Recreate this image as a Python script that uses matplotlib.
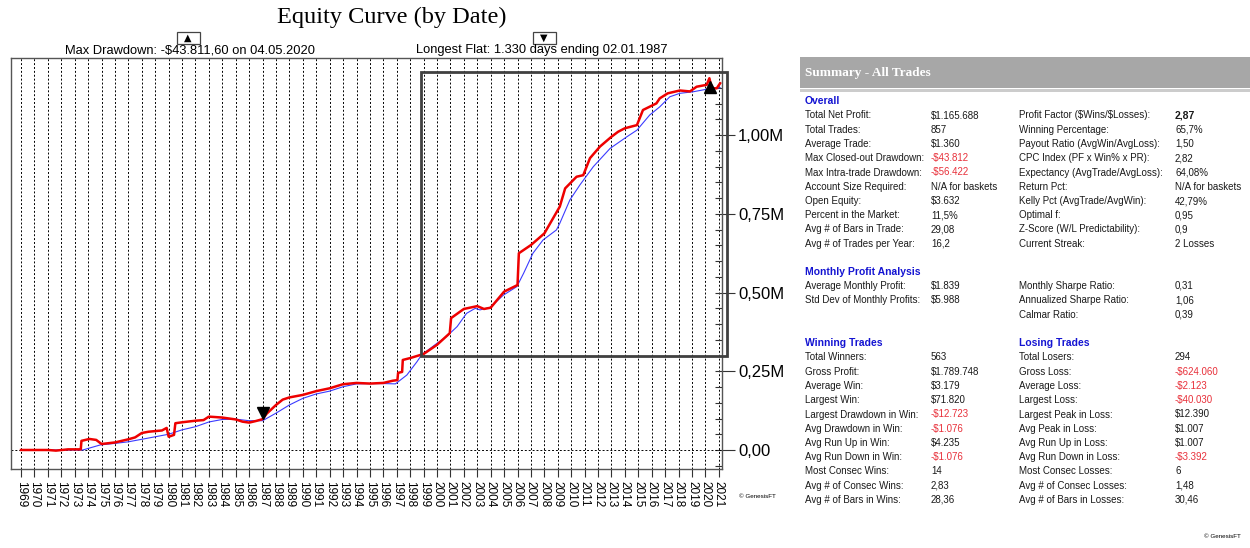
import matplotlib
matplotlib.use("Agg")
import matplotlib.pyplot as plt
import numpy as np
from matplotlib.patches import Rectangle
from matplotlib.ticker import FixedLocator, FuncFormatter
import matplotlib.transforms as mtransforms

plt.rcParams['font.family'] = ['Liberation Sans', 'DejaVu Sans']

# ---- equity curves (value in $M, time in decimal years) ----
red_years = [1969.0, 1971.0, 1971.6, 1972.5, 1973.45, 1973.5, 1974.1, 1974.6, 1975.0, 1976.0,
             1977.0, 1977.5, 1978.0, 1978.5, 1979.0, 1979.5, 1979.85, 1980.0, 1980.4, 1980.5,
             1981.0, 1982.0, 1982.6, 1983.0, 1984.0, 1985.0, 1985.5, 1986.0, 1986.5, 1987.0,
             1987.3, 1987.6, 1988.0, 1988.5, 1989.0, 1990.0, 1991.0, 1992.0, 1993.0, 1994.0,
             1995.0, 1996.0, 1996.7, 1997.05, 1997.1, 1997.4, 1997.45, 1998.0, 1999.0, 2000.0,
             2000.95, 2001.05, 2002.0, 2003.0, 2003.5, 2004.0, 2005.0, 2006.0, 2006.1, 2007.0,
             2008.0, 2009.15, 2009.55, 2010.4, 2010.9, 2011.4, 2012.15, 2013.0, 2013.5, 2014.0,
             2014.9, 2015.35, 2016.35, 2016.6, 2017.2, 2018.1, 2018.85, 2019.35, 2020.1, 2020.3,
             2020.47, 2020.85, 2021.1]
red_equity = [0.0, 0.0, -0.002, 0.002, 0.002, 0.029, 0.035, 0.032, 0.019, 0.024,
              0.034, 0.040, 0.054, 0.058, 0.060, 0.062, 0.070, 0.042, 0.048, 0.085,
              0.088, 0.093, 0.095, 0.106, 0.103, 0.097, 0.090, 0.087, 0.092, 0.098,
              0.115, 0.127, 0.143, 0.160, 0.167, 0.175, 0.187, 0.196, 0.209, 0.213,
              0.211, 0.213, 0.220, 0.222, 0.245, 0.248, 0.286, 0.292, 0.305, 0.334,
              0.371, 0.419, 0.448, 0.457, 0.448, 0.452, 0.503, 0.524, 0.625, 0.651,
              0.688, 0.773, 0.831, 0.868, 0.873, 0.927, 0.964, 0.995, 1.011, 1.022,
              1.032, 1.080, 1.101, 1.117, 1.133, 1.142, 1.139, 1.154, 1.160, 1.181,
              1.149, 1.149, 1.165]

blue_years = [1969.0, 1973.6, 1974.9, 1976, 1977, 1978, 1979, 1980, 1981, 1982,
              1983, 1984, 1985, 1986, 1987, 1988, 1989, 1990, 1991, 1992,
              1993, 1994, 1995, 1996, 1996.9, 1997.75, 1998.5, 1998.85, 2000.0, 2000.7,
              2001.5, 2002.2, 2002.85, 2003.2, 2003.95, 2004.95, 2005.95, 2006.45, 2007.15, 2007.9,
              2008.9, 2009.15, 2009.9, 2010.65, 2011.65, 2012.9, 2014.15, 2014.9, 2015.85, 2016.6,
              2017.35, 2018.1, 2019.1, 2020.1, 2020.85, 2021.1]
blue_equity = [0.0, 0.0, 0.016, 0.021, 0.026, 0.034, 0.042, 0.050, 0.064, 0.074,
               0.089, 0.097, 0.098, 0.093, 0.093, 0.117, 0.143, 0.164, 0.178, 0.187,
               0.201, 0.210, 0.211, 0.211, 0.210, 0.238, 0.280, 0.302, 0.339, 0.360,
               0.392, 0.434, 0.450, 0.445, 0.453, 0.492, 0.519, 0.561, 0.625, 0.667,
               0.699, 0.720, 0.794, 0.842, 0.900, 0.958, 0.995, 1.016, 1.064, 1.090,
               1.122, 1.133, 1.138, 1.146, 1.149, 1.151]

year_ticks = list(range(1969, 2022))
y_major = [0.0, 0.25, 0.50, 0.75, 1.00]

max_dd_date = 2020.34     # 04.05.2020
flat_end_date = 1987.0    # 02.01.1987
zoom_box = (1998.8, 2021.6, 0.30, 1.20)   # x0, x1, y0, y1

# ---- summary table ----
overall_lab1 = ["Total Net Profit:", "Total Trades:", "Average Trade:", "Max Closed-out Drawdown:",
                "Max Intra-trade Drawdown:", "Account Size Required:", "Open Equity:",
                "Percent in the Market:", "Avg # of Bars in Trade:", "Avg # of Trades per Year:"]
overall_val1 = ["$1.165.688", "857", "$1.360", "-$43.812", "-$56.422", "N/A for baskets",
                "$3.632", "11,5%", "29,08", "16,2"]
overall_lab2 = ["Profit Factor ($Wins/$Losses):", "Winning Percentage:", "Payout Ratio (AvgWin/AvgLoss):",
                "CPC Index (PF x Win% x PR):", "Expectancy (AvgTrade/AvgLoss):", "Return Pct:",
                "Kelly Pct (AvgTrade/AvgWin):", "Optimal f:", "Z-Score (W/L Predictability):",
                "Current Streak:"]
overall_val2 = ["2,87", "65,7%", "1,50", "2,82", "64,08%", "N/A for baskets", "42,79%", "0,95",
                "0,9", "2 Losses"]

monthly_lab1 = ["Average Monthly Profit:", "Std Dev of Monthly Profits:"]
monthly_val1 = ["$1.839", "$5.988"]
monthly_lab2 = ["Monthly Sharpe Ratio:", "Annualized Sharpe Ratio:", "Calmar Ratio:"]
monthly_val2 = ["0,31", "1,06", "0,39"]

win_lab = ["Total Winners:", "Gross Profit:", "Average Win:", "Largest Win:", "Largest Drawdown in Win:",
           "Avg Drawdown in Win:", "Avg Run Up in Win:", "Avg Run Down in Win:", "Most Consec Wins:",
           "Avg # of Consec Wins:", "Avg # of Bars in Wins:"]
win_val = ["563", "$1.789.748", "$3.179", "$71.820", "-$12.723", "-$1.076", "$4.235", "-$1.076",
           "14", "2,83", "28,36"]
loss_lab = ["Total Losers:", "Gross Loss:", "Average Loss:", "Largest Loss:", "Largest Peak in Loss:",
            "Avg Peak in Loss:", "Avg Run Up in Loss:", "Avg Run Down in Loss:", "Most Consec Losses:",
            "Avg # of Consec Losses:", "Avg # of Bars in Losses:"]
loss_val = ["294", "-$624.060", "-$2.123", "-$40.030", "$12.390", "$1.007", "$1.007", "-$3.392",
            "6", "1,48", "30,46"]

W, H = 1250, 548
fig = plt.figure(figsize=(W / 100, H / 100), dpi=100)


def fx(px):
    return px / W


def fy(py):
    return 1 - py / H


def ftext(x, y, s, **kw):
    # pixel coords, no mathtext (lots of $ signs here)
    return fig.text(fx(x), fy(y), s, parse_math=False, **kw)


# ---- chart ----
ax = fig.add_axes([fx(11), fy(469), fx(722) - fx(11), fy(58) - fy(469)])
ax.set_xlim(1968.25, 2021.24)
ax.set_ylim(-0.0604, 1.2452)

ax.plot(blue_years, blue_equity, color='#3b3bff', lw=0.8, zorder=3)
ax.plot(red_years, red_equity, color='#ee0000', lw=1.8, zorder=4)

# dotted year grid and zero line
ax.set_xticks(year_ticks)
ax.set_xticklabels([str(y) for y in year_ticks], rotation=-90, fontsize=8.5,
                   family=['Liberation Sans Narrow', 'Liberation Sans'])
ax.grid(axis='x', color='black', lw=0.7, linestyle=(0, (2, 2)))
ax.axhline(0, color='black', lw=0.7, linestyle=(0, (2, 2)))
ax.tick_params(axis='x', direction='out', length=6, width=0.8, pad=2.5, colors='#333333',
               labelcolor='black')

ax.yaxis.tick_right()
ax.yaxis.set_major_locator(FixedLocator(y_major))
ax.yaxis.set_minor_locator(FixedLocator(np.arange(-0.05, 1.25, 0.05)))
ax.yaxis.remove_overlapping_locs = False
ax.yaxis.set_major_formatter(FuncFormatter(
    lambda v, p: "0,00" if v == 0 else f"{v:.2f}M".replace('.', ',')))
ax.tick_params(axis='y', which='major', direction='out', length=9.5, width=0.8, pad=2,
               labelsize=12, colors='#333333', labelcolor='black')
ax.tick_params(axis='y', which='minor', direction='in', length=5, width=0.8, colors='#333333')

for s in ax.spines.values():
    s.set_color('#555555')
    s.set_linewidth(1.0)

# zoom rectangle
x0, x1, y0, y1 = zoom_box
ax.add_patch(Rectangle((x0, y0), x1 - x0, y1 - y0, fill=False, ec='#404040', lw=2,
                       clip_on=False, zorder=5))

# drawdown / flat markers
up = mtransforms.offset_copy(ax.transData, fig=fig, x=0, y=2, units='dots')
dn = mtransforms.offset_copy(ax.transData, fig=fig, x=0, y=6, units='dots')
ax.plot([max_dd_date], [np.interp(max_dd_date, blue_years, blue_equity)], marker='^',
        color='black', ms=8, transform=up, zorder=6)
ax.plot([flat_end_date], [np.interp(flat_end_date, red_years, red_equity)], marker='v',
        color='black', ms=8, transform=dn, zorder=6)

# titles
ftext(392, 17, "Equity Curve (by Date)", ha='center', va='center', fontsize=17.5,
      family=['Liberation Serif', 'DejaVu Serif'])
ftext(190, 50, "Max Drawdown: -$43.811,60 on 04.05.2020", ha='center', va='center',
      fontsize=9.3)
ftext(542, 50, "Longest Flat: 1.330 days ending 02.01.1987", ha='center', va='center',
      fontsize=9.3)
for cx, sym in [(188, "\u25B2"), (544, "\u25BC")]:
    fig.patches.append(Rectangle((fx(cx - 11.5), fy(44)), fx(23), fy(32) - fy(44),
                                 transform=fig.transFigure, fc='white', ec='#444444', lw=0.9))
    ftext(cx, 38, sym, ha='center', va='center', fontsize=7, family=['DejaVu Sans'])

ftext(757, 497, "\u00A9 GenesisFT", ha='center', va='center', fontsize=4.5)
ftext(1222, 537, "\u00A9 GenesisFT", ha='center', va='center', fontsize=4.5)

# ---- summary panel ----
fig.patches.append(Rectangle((fx(800), fy(88)), fx(1250) - fx(800), fy(57) - fy(88),
                             transform=fig.transFigure, fc='#a7a7a7', ec='none'))
fig.patches.append(Rectangle((fx(800), fy(92)), fx(1250) - fx(800), fy(89) - fy(92),
                             transform=fig.transFigure, fc='#cccccc', ec='none'))
ftext(805, 73, "Summary - All Trades", color='white', fontsize=9.5, weight='bold',
      va='center', family=['Liberation Serif', 'DejaVu Serif'])

col_x = [805, 931, 1019, 1175]
step = 14.25
blue_head = '#1414d2'
txt_col = '#1a1a1a'
neg_col = '#e8303a'


def header(x, y, s):
    ftext(x, y, s, color=blue_head, fontsize=7.5, weight='bold', va='center')


def rows(x_lab, x_val, y_start, labels, values, bold_first=False):
    for i, (lab, val) in enumerate(zip(labels, values)):
        y = y_start + i * step
        ftext(x_lab, y, lab, color=txt_col, fontsize=7, va='center')
        c = neg_col if val.startswith('-') else txt_col
        w = 'bold' if (bold_first and i == 0) else 'normal'
        ftext(x_val, y, val, color=c, fontsize=7.5 if w == 'bold' else 7,
              weight=w, va='center')


header(col_x[0], 101, "Overall")
rows(col_x[0], col_x[1], 115.5, overall_lab1, overall_val1)
rows(col_x[2], col_x[3], 115.5, overall_lab2, overall_val2, bold_first=True)

header(col_x[0], 272, "Monthly Profit Analysis")
rows(col_x[0], col_x[1], 286, monthly_lab1, monthly_val1)
rows(col_x[2], col_x[3], 286, monthly_lab2, monthly_val2)

header(col_x[0], 343, "Winning Trades")
header(col_x[2], 343, "Losing Trades")
rows(col_x[0], col_x[1], 357.5, win_lab, win_val)
rows(col_x[2], col_x[3], 357.5, loss_lab, loss_val)

fig.savefig("out.png", dpi=100)
